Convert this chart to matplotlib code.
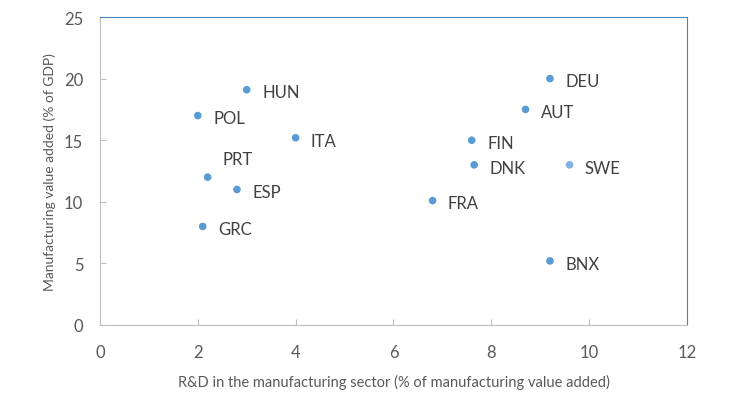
import matplotlib
matplotlib.use('Agg')
import matplotlib.pyplot as plt

# Data
countries = ['HUN', 'POL', 'ITA', 'PRT', 'ESP', 'GRC', 'FRA', 'FIN', 'DNK', 'DEU', 'AUT', 'SWE', 'BNX']
rd_share = [3.0, 2.0, 4.0, 2.2, 2.8, 2.1, 6.8, 7.6, 7.65, 9.2, 8.7, 9.6, 9.2]
manuf_va = [19.1, 17.0, 15.2, 12.0, 11.0, 8.0, 10.1, 15.0, 13.0, 20.0, 17.5, 13.0, 5.2]
x_ticks = [0, 2, 4, 6, 8, 10, 12]
y_ticks = [0, 5, 10, 15, 20, 25]

plt.rcParams['font.family'] = ['Lato', 'DejaVu Sans']

fig = plt.figure(figsize=(7.3, 4.1), dpi=100)
ax = fig.add_axes([0.137, 0.205, 0.804, 0.751])

colors = ['#5b9bd5'] * len(countries)
colors[countries.index('SWE')] = '#7fb2e0'
ax.scatter(rd_share, manuf_va, s=30, c=colors, zorder=3, linewidths=0)

for name, x, y in zip(countries, rd_share, manuf_va):
    if name == 'PRT':
        off = (11, 13)
    else:
        off = (11, -2)
    ax.annotate(name, (x, y), xytext=off, textcoords='offset points',
                ha='left', va='center', fontsize=12, color='#404040')

ax.set_xlim(0, 12)
ax.set_ylim(0, 25)
ax.set_xticks(x_ticks)
ax.set_yticks(y_ticks)
ax.tick_params(direction='in', length=4, color='#bfbfbf', labelcolor='#595959',
               labelsize=12)
ax.tick_params(axis='x', pad=14)
ax.tick_params(axis='y', pad=12)

for side in ['left', 'bottom']:
    ax.spines[side].set_color('#bfbfbf')
for side in ['top', 'right']:
    ax.spines[side].set_color('#4f81bd')
    ax.spines[side].set_linewidth(0.8)

ax.set_xlabel('R&D in the manufacturing sector (% of manufacturing value added)',
              fontsize=10.5, color='#595959', labelpad=10)
ax.set_ylabel('Manufacturing value added (% of GDP)', fontsize=10, color='#595959', labelpad=6)

fig.savefig('out.png', dpi=100)
